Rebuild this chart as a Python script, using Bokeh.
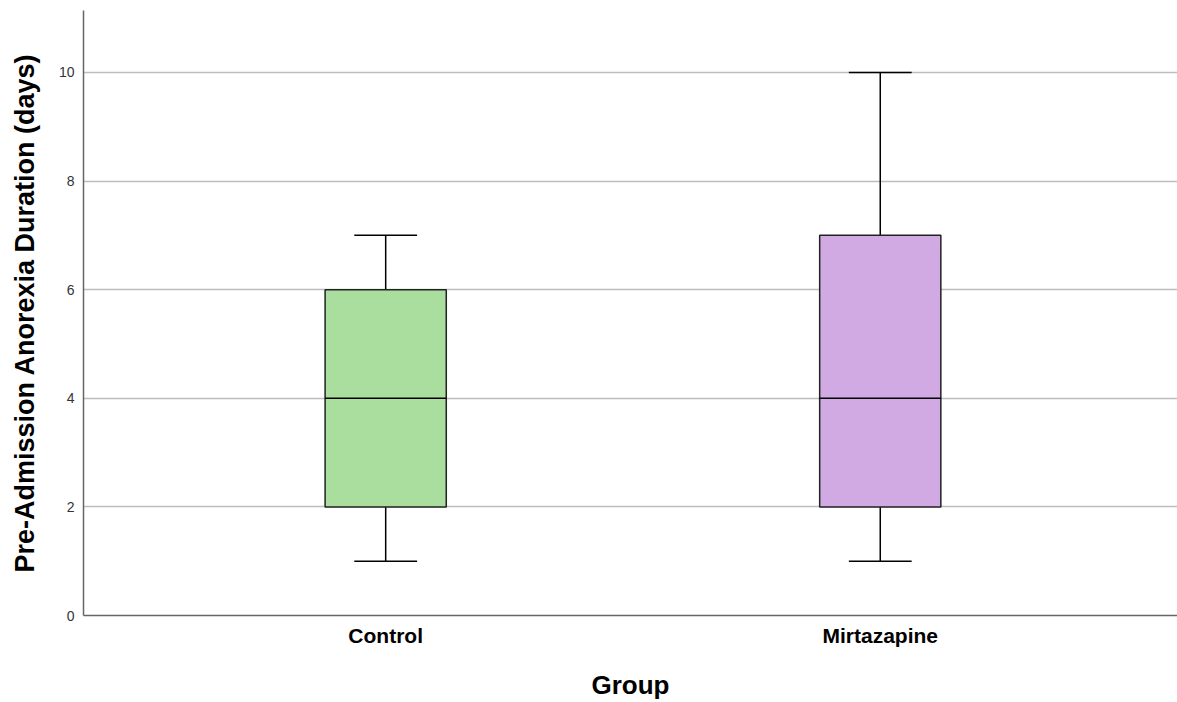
import numpy as np
from bokeh.plotting import figure
from bokeh.models import Range1d, FixedTicker, ColumnDataSource
from bokeh.embed import file_html
from bokeh.resources import INLINE

groups = ["Control", "Mirtazapine"]
mins = [1, 1]
q1 = [2, 2]
medians = [4, 4]
q3 = [6, 7]
maxs = [7, 10]
colors = ["#aade9f", "#d1aae4"]
y_ticks = [0, 2, 4, 6, 8, 10]

xpos = np.arange(1, len(groups) + 1).astype(float)
box_w = 0.245
cap_w = 0.127

src = ColumnDataSource(dict(
    x=xpos, lo=mins, q1=q1, med=medians, q3=q3, hi=maxs, color=colors,
    bx0=xpos - box_w / 2, bx1=xpos + box_w / 2,
    cx0=xpos - cap_w / 2, cx1=xpos + cap_w / 2,
))

p = figure(width=1177, height=702, output_backend="svg", toolbar_location=None,
           x_range=Range1d(0.389, 2.601), y_range=Range1d(0, 11.14),
           min_border_left=83, min_border_right=0, min_border_top=10, min_border_bottom=86)
p.outline_line_color = None
p.background_fill_color = "white"

# whiskers
p.segment(x0="x", y0="q3", x1="x", y1="hi", source=src, line_color="black", line_width=1.5)
p.segment(x0="x", y0="q1", x1="x", y1="lo", source=src, line_color="black", line_width=1.5)
p.segment(x0="cx0", y0="hi", x1="cx1", y1="hi", source=src, line_color="black", line_width=1.5)
p.segment(x0="cx0", y0="lo", x1="cx1", y1="lo", source=src, line_color="black", line_width=1.5)
# boxes
p.vbar(x="x", bottom="q1", top="q3", width=box_w, source=src, fill_color="color",
       line_color="#222222", line_width=1.5)
p.segment(x0="bx0", y0="med", x1="bx1", y1="med", source=src, line_color="black", line_width=1.5)

# grid
p.xgrid.grid_line_color = None
p.ygrid.ticker = FixedTicker(ticks=[t for t in y_ticks if t > 0])
p.ygrid.grid_line_color = "#bdbdbd"
p.ygrid.grid_line_width = 1.3

# y axis
p.yaxis.ticker = FixedTicker(ticks=y_ticks)
p.yaxis.axis_label = "Pre-Admission Anorexia Duration (days)"
p.yaxis.axis_label_text_font = "Liberation Sans"
p.yaxis.axis_label_text_font_style = "bold"
p.yaxis.axis_label_text_font_size = "27px"
p.yaxis.axis_label_text_color = "black"
p.yaxis.axis_label_standoff = 16
p.yaxis.major_label_text_font = "Liberation Sans"
p.yaxis.major_label_text_font_size = "14px"
p.yaxis.major_label_text_color = "#333333"
p.yaxis.major_tick_line_color = None
p.yaxis.minor_tick_line_color = None
p.yaxis.major_label_standoff = 3
p.yaxis.axis_line_color = "#666666"
p.yaxis.axis_line_width = 1.5

# x axis
p.xaxis.ticker = FixedTicker(ticks=list(xpos))
p.xaxis.major_label_overrides = {float(x): g for x, g in zip(xpos, groups)}
p.xaxis.axis_label = "Group"
p.xaxis.axis_label_text_font = "Liberation Sans"
p.xaxis.axis_label_text_font_style = "bold"
p.xaxis.axis_label_text_font_size = "26px"
p.xaxis.axis_label_text_color = "black"
p.xaxis.axis_label_standoff = 20
p.xaxis.major_label_text_font = "Liberation Sans"
p.xaxis.major_label_text_font_style = "bold"
p.xaxis.major_label_text_font_size = "21px"
p.xaxis.major_label_text_color = "black"
p.xaxis.major_tick_line_color = None
p.xaxis.minor_tick_line_color = None
p.xaxis.major_tick_out = 0
p.xaxis.major_label_standoff = 8
p.xaxis.axis_line_color = "#666666"
p.xaxis.axis_line_width = 1.5

open("out.html", "w").write(file_html(p, INLINE))
